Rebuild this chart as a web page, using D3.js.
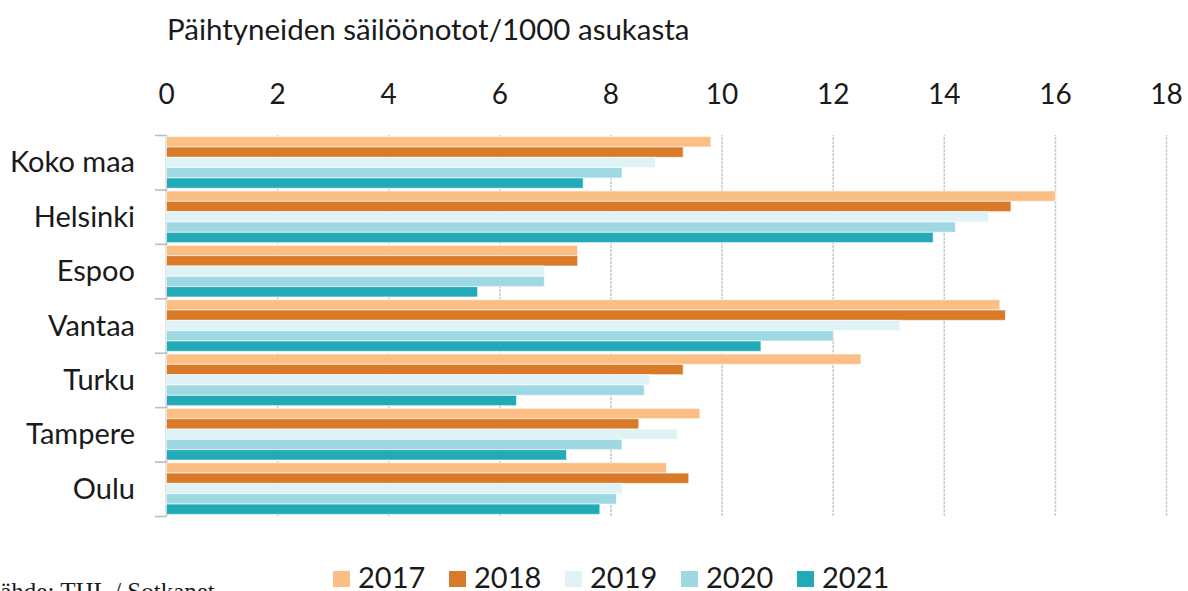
<html>
<head>
  <meta charset="utf-8">
  <title>Päihtyneiden säilöönotot</title>
  <script src="https://d3js.org/d3.v7.min.js"></script>
  <style>
    body { margin: 0; background: #fff; }
    text { font-family: Lato, "Open Sans", sans-serif; fill: #1a1a1a; }
  </style>
</head>
<body>
<div id="chart"></div>
<script>
// data
var cities = ["Koko maa", "Helsinki", "Espoo", "Vantaa", "Turku", "Tampere", "Oulu"];
var years = ["2017", "2018", "2019", "2020", "2021"];
var v2017 = [9.8, 16.0, 7.4, 15.0, 12.5, 9.6, 9.0];
var v2018 = [9.3, 15.2, 7.4, 15.1, 9.3, 8.5, 9.4];
var v2019 = [8.8, 14.8, 6.8, 13.2, 8.7, 9.2, 8.2];
var v2020 = [8.2, 14.2, 6.8, 12.0, 8.6, 8.2, 8.1];
var v2021 = [7.5, 13.8, 5.6, 10.7, 6.3, 7.2, 7.8];
var xTicks = [0, 2, 4, 6, 8, 10, 12, 14, 16, 18];
var colors = ["#fbbf85", "#d97a29", "#dff3f7", "#9ed8e3", "#22aab7"];

var series = [v2017, v2018, v2019, v2020, v2021];

var W = 1188, H = 591;
var plotTop = 135, plotBottom = 516, plotLeft = 166, plotRight = 1166;

var svg = d3.select("#chart").append("svg")
    .attr("width", W).attr("height", H);

var x = d3.scaleLinear().domain([0, 18]).range([plotLeft, plotRight]);
var y = d3.scaleBand().domain(cities).range([plotTop, plotBottom])
    .paddingInner(0.05).paddingOuter(0.03);
var ySub = d3.scaleBand().domain(years).range([0, y.bandwidth()]).padding(0);

// title
svg.append("text")
    .attr("x", 167).attr("y", 40)
    .attr("font-size", "29.5px")
    .text("Päihtyneiden säilöönotot/1000 asukasta");

// gridlines
var grid = svg.append("g")
    .attr("transform", "translate(0," + plotBottom + ")")
    .call(d3.axisBottom(x).tickValues(xTicks).tickSize(-(plotBottom - plotTop)).tickFormat(""));
grid.select(".domain").remove();
grid.selectAll("line")
    .attr("stroke", "#cdcdcd").attr("stroke-width", 1.6)
    .attr("stroke-dasharray", "3,1");

// tick labels on top
var xAxis = svg.append("g")
    .attr("transform", "translate(0,104)")
    .call(d3.axisTop(x).tickValues(xTicks).tickSize(0).tickPadding(0));
xAxis.select(".domain").remove();
xAxis.selectAll("text")
    .attr("font-size", "28px")
    .attr("font-family", "Lato, sans-serif")
    .attr("fill", "#1a1a1a");

// left axis with ticks between categories
var yEdge = d3.scaleLinear().domain([0, cities.length]).range([plotTop, plotBottom]);
var yAxis = svg.append("g")
    .attr("transform", "translate(" + plotLeft + ",0)")
    .call(d3.axisLeft(yEdge).tickValues(d3.range(cities.length + 1))
        .tickSize(11).tickSizeOuter(0).tickFormat(""));
yAxis.selectAll("line, path")
    .attr("stroke", "#bdbdbd").attr("stroke-width", 1.6);

// bars
var groups = svg.append("g").selectAll("g")
    .data(cities)
    .join("g")
    .attr("transform", function (d) { return "translate(0," + y(d) + ")"; });

groups.selectAll("rect")
    .data(function (c, i) {
        return years.map(function (yr, j) { return { year: yr, value: series[j][i], k: j }; });
    })
    .join("rect")
    .attr("x", x(0) + 0.5)
    .attr("y", function (d) { return ySub(d.year); })
    .attr("width", function (d) { return x(d.value) - x(0); })
    .attr("height", ySub.bandwidth())
    .attr("fill", function (d) { return colors[d.k]; })
    .attr("stroke", "#fff").attr("stroke-opacity", 0.6).attr("stroke-width", 1);

// category labels
svg.append("g").selectAll("text")
    .data(cities)
    .join("text")
    .attr("x", 135)
    .attr("y", function (d) { return y(d) + y.bandwidth() / 2 + 10; })
    .attr("text-anchor", "end")
    .attr("font-size", "29px")
    .text(function (d) { return d; });

// legend
var leg = svg.append("g").selectAll("g")
    .data(years)
    .join("g")
    .attr("transform", function (d, i) { return "translate(" + (333 + i * 116) + ",0)"; });
leg.append("rect")
    .attr("x", 0).attr("y", 571).attr("width", 17).attr("height", 16)
    .attr("fill", function (d, i) { return colors[i]; });
leg.append("text")
    .attr("x", 25).attr("y", 588)
    .attr("font-size", "29px")
    .text(function (d) { return d; });

// source, cut off at the edge like in the original
svg.append("text")
    .attr("x", -15).attr("y", 600)
    .attr("font-size", "25px")
    .style("font-family", "'Liberation Serif', 'DejaVu Serif', serif")
    .text("Lähde: THL / Sotkanet");
</script>
</body>
</html>
